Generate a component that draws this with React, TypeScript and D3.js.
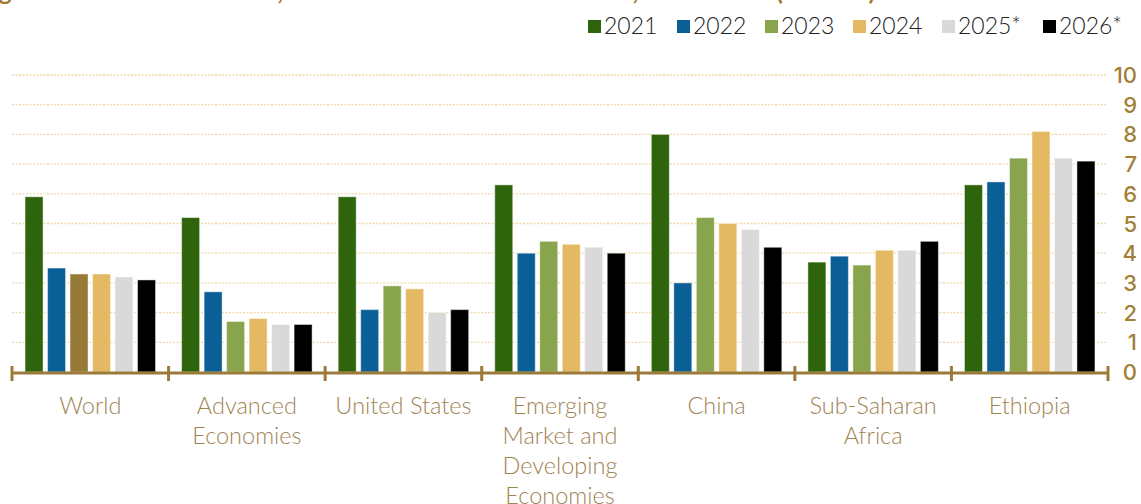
import React, { useEffect, useRef } from 'react';
import * as d3 from 'd3';

const categories = ['World', 'Advanced Economies', 'United States', 'Emerging Market and Developing Economies', 'China', 'Sub-Saharan Africa', 'Ethiopia'];
const categoryLines = [['World'], ['Advanced', 'Economies'], ['United States'], ['Emerging', 'Market and', 'Developing', 'Economies'], ['China'], ['Sub-Saharan', 'Africa'], ['Ethiopia']];
const years = ['2021', '2022', '2023', '2024', '2025*', '2026*'];
const yearColors = ['#2e650c', '#0a6096', '#88a44d', '#e3ba63', '#d9d9d9', '#000000'];

const v2021 = [5.9, 5.2, 5.9, 6.3, 8.0, 3.7, 6.3];
const v2022 = [3.5, 2.7, 2.1, 4.0, 3.0, 3.9, 6.4];
const v2023 = [3.3, 1.7, 2.9, 4.4, 5.2, 3.6, 7.2];
const v2024 = [3.3, 1.8, 2.8, 4.3, 5.0, 4.1, 8.1];
const v2025 = [3.2, 1.6, 2.0, 4.2, 4.8, 4.1, 7.2];
const v2026 = [3.1, 1.6, 2.1, 4.0, 4.2, 4.4, 7.1];
const seriesValues = [v2021, v2022, v2023, v2024, v2025, v2026];

// the World 2023 bar is drawn in brown in the source
const colorOverrides = [{ category: 'World', year: '2023', color: '#977a38' }];

const yTicks = [0, 1, 2, 3, 4, 5, 6, 7, 8, 9, 10];
const title = 'Figure 1: Real GDP Growth, World and Selected Economies, 2021-2026 (Percent)';

const W = 1141;
const H = 504;
const gold = '#9b7a3a';

const App = () => {
    const svgRef = useRef(null);

    useEffect(() => {
        document.body.style.margin = '0';
        const svg = d3.select(svgRef.current);
        svg.selectAll('*').remove();

        const x0 = d3.scaleBand().domain(categories).range([12, 1108]).paddingInner(0).paddingOuter(0);
        const x1 = d3.scaleBand().domain(years).range([0, x0.bandwidth()]).paddingInner(0.2).paddingOuter(0.58);
        const y = d3.scaleLinear().domain([0, 10]).range([372, 75]);

        // title, cropped at the top edge like in the source image
        svg.append('text')
            .attr('x', -22)
            .attr('y', 0)
            .attr('fill', '#a0782f')
            .attr('font-family', 'Lato, sans-serif')
            .attr('font-weight', 700)
            .attr('font-size', 25)
            .text(title);

        // grid
        svg.append('g')
            .selectAll('line')
            .data(yTicks.filter(d => d > 0))
            .join('line')
            .attr('x1', 12)
            .attr('x2', 1107)
            .attr('y1', d => y(d))
            .attr('y2', d => y(d))
            .attr('stroke', '#eed9a6')
            .attr('stroke-width', 1.3)
            .attr('stroke-dasharray', '2,1.5');

        // y labels on the right
        svg.append('g')
            .selectAll('text')
            .data(yTicks)
            .join('text')
            .attr('x', 1137)
            .attr('y', d => y(d) + 8)
            .attr('text-anchor', 'end')
            .attr('fill', '#a27f36')
            .attr('font-family', 'Inter, sans-serif')
            .attr('font-weight', 500)
            .attr('font-size', 22)
            .text(d => d);

        // bars
        const groups = svg.append('g')
            .selectAll('g')
            .data(categories)
            .join('g')
            .attr('transform', d => `translate(${x0(d)},0)`);

        groups.selectAll('rect')
            .data((c, ci) => years.map((yr, yi) => ({ c, yr, yi, v: seriesValues[yi][ci] })))
            .join('rect')
            .attr('x', d => x1(d.yr))
            .attr('width', x1.bandwidth())
            .attr('y', d => y(d.v))
            .attr('height', d => y(0) - y(d.v))
            .attr('fill', d => {
                const o = colorOverrides.find(k => k.category === d.c && k.year === d.yr);
                return o ? o.color : yearColors[d.yi];
            })
            .attr('stroke', 'rgba(255,255,255,0.45)')
            .attr('stroke-width', 1);

        // x axis line + ticks
        const axis = svg.append('g');
        axis.append('line')
            .attr('x1', 12)
            .attr('x2', 1108)
            .attr('y1', 373)
            .attr('y2', 373)
            .attr('stroke', gold)
            .attr('stroke-width', 3);

        const bounds = categories.map(c => x0(c)).concat([x0.range()[1]]);
        axis.selectAll('line.tick')
            .data(bounds)
            .join('line')
            .attr('class', 'tick')
            .attr('x1', d => d)
            .attr('x2', d => d)
            .attr('y1', 366)
            .attr('y2', 381)
            .attr('stroke', gold)
            .attr('stroke-width', 3);

        // category labels
        const labels = svg.append('g')
            .selectAll('text')
            .data(categories)
            .join('text')
            .attr('text-anchor', 'middle')
            .attr('fill', '#9f8453')
            .attr('font-family', 'Lato, sans-serif')
            .attr('font-weight', 300)
            .attr('font-size', 23.5);

        labels.each(function (c, i) {
            d3.select(this)
                .selectAll('tspan')
                .data(categoryLines[i])
                .join('tspan')
                .attr('x', x0(c) + x0.bandwidth() / 2)
                .attr('y', (d, j) => 414 + j * 30)
                .text(d => d);
        });

        // legend
        const legendX = [588, 677, 765, 853, 942, 1043];
        const legend = svg.append('g')
            .selectAll('g')
            .data(years)
            .join('g')
            .attr('transform', (d, i) => `translate(${legendX[i]},0)`);

        legend.append('rect')
            .attr('x', 0)
            .attr('y', 20)
            .attr('width', 13)
            .attr('height', 13)
            .attr('fill', (d, i) => yearColors[i]);

        legend.append('text')
            .attr('x', 16)
            .attr('y', 34)
            .attr('fill', '#222')
            .attr('font-family', 'Lato, sans-serif')
            .attr('font-weight', 300)
            .attr('font-size', 23)
            .text(d => d);
    }, []);

    return (
        <svg ref={svgRef} width={W} height={H} style={{ display: 'block', background: '#fff' }}></svg>
    );
};

export default App;
